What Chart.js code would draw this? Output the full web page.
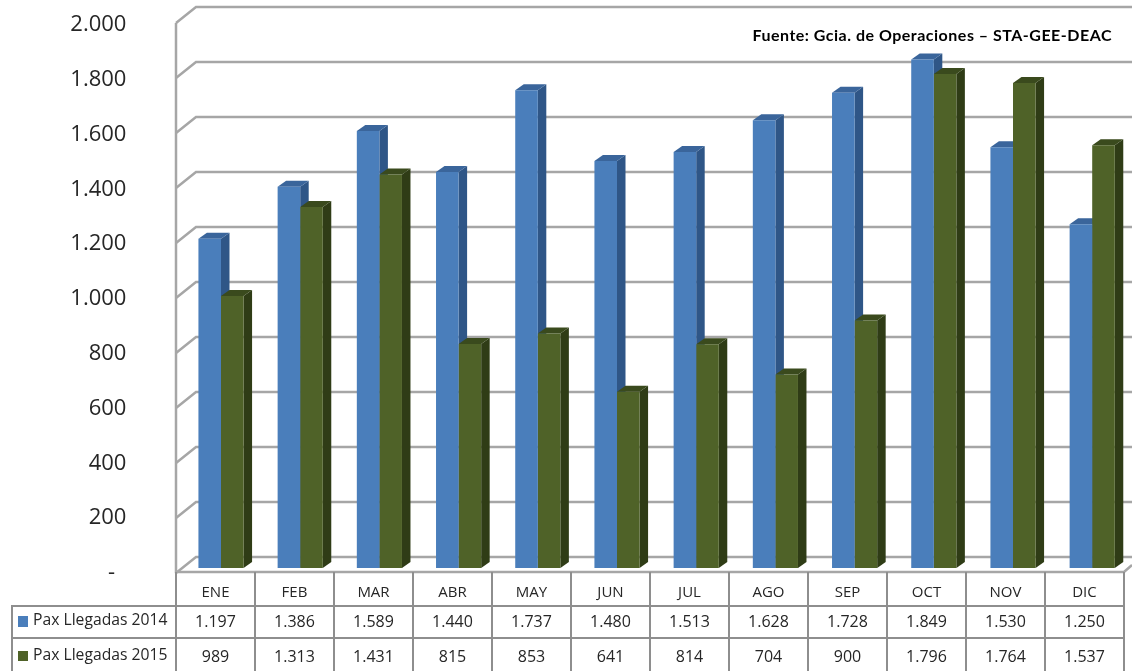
<!DOCTYPE html>
<html><head><meta charset="utf-8">
<style>html,body{margin:0;padding:0;background:#fff}canvas{display:block}</style>
<script src="https://cdn.jsdelivr.net/npm/chart.js@4"></script></head>
<body><canvas id="c" width="1132" height="671"></canvas>
<script>
const months = ["ENE","FEB","MAR","ABR","MAY","JUN","JUL","AGO","SEP","OCT","NOV","DIC"];
const serie2014 = [1197,1386,1589,1440,1737,1480,1513,1628,1728,1849,1530,1250];
const serie2015 = [989,1313,1431,815,853,641,814,704,900,1796,1764,1537];
const name2014 = "Pax Llegadas 2014";
const name2015 = "Pax Llegadas 2015";
const fuente = "Fuente: Gcia. de Operaciones – STA-GEE-DEAC";
const tickValues = [0,200,400,600,800,1000,1200,1400,1600,1800,2000];
const colors2014 = {front:"#4a7ebb",side:"#2f5687",cap:"#3a659b"};
const colors2015 = {front:"#4f6228",side:"#2f3c16",cap:"#3a4a1d"};
const fmt = v => v===0 ? "-" : (v>=1000 ? Math.floor(v/1000)+"."+String(v%1000).padStart(3,"0") : String(v));
const FONT = '"Open Sans"';
const GRID = "#a6a6a6", TABLE="#8e8e8e", TXT="#262626";
const depthX = 8.5, depthY = 6, tableLeft = 176, tableStep = 79;

const scene = {
  id:"scene",
  beforeDatasetsDraw(chart){
    const {ctx,scales:{y}} = chart;
    ctx.save();
    ctx.strokeStyle = GRID; ctx.lineWidth = 2.5;
    const left = tableLeft, backX = 196, right = 1132, frontRight = tableLeft+tableStep*12;
    tickValues.forEach(v=>{
      const p = y.getPixelForValue(v);
      ctx.beginPath();
      ctx.moveTo(left,p+5); ctx.lineTo(backX,p-11); ctx.lineTo(right,p-11);
      ctx.stroke();
    });
    const p0=y.getPixelForValue(0)+4;
    ctx.beginPath();
    ctx.moveTo(left,y.getPixelForValue(2000)+5); ctx.lineTo(left,p0); ctx.lineTo(frontRight,p0); ctx.lineTo(right,p0-7);
    ctx.stroke();
    chart.data.datasets.forEach((ds,di)=>{
      const c = di===0?colors2014:colors2015;
      chart.getDatasetMeta(di).data.forEach(b=>{
        const l=b.x-b.width/2, r=b.x+b.width/2, t=b.y, bt=b.base;
        ctx.fillStyle=c.side;
        ctx.beginPath();ctx.moveTo(r,t);ctx.lineTo(r+depthX,t-depthY);ctx.lineTo(r+depthX,bt-depthY);ctx.lineTo(r,bt);ctx.closePath();ctx.fill();
        ctx.fillStyle=c.cap;
        ctx.beginPath();ctx.moveTo(l,t);ctx.lineTo(l+depthX,t-depthY);ctx.lineTo(r+depthX,t-depthY);ctx.lineTo(r,t);ctx.closePath();ctx.fill();
      });
    });
    ctx.restore();
  },
  afterDraw(chart){
    const {ctx} = chart;
    const colLeft = i => tableLeft+i*tableStep;
    const rows=[572,606,638,673];
    ctx.save();
    ctx.strokeStyle=TABLE; ctx.lineWidth=2;
    ctx.beginPath();
    for(let i=0;i<=months.length;i++){ctx.moveTo(colLeft(i),rows[0]);ctx.lineTo(colLeft(i),rows[3]);}
    ctx.moveTo(11,rows[1]);ctx.lineTo(colLeft(12),rows[1]);
    ctx.moveTo(11,rows[2]);ctx.lineTo(colLeft(12),rows[2]);
    ctx.moveTo(12,rows[1]);ctx.lineTo(12,rows[3]);
    ctx.stroke();
    ctx.fillStyle=TXT; ctx.textAlign="center"; ctx.textBaseline="middle";
    months.forEach((m,i)=>{
      const cx=colLeft(i)+tableStep/2;
      ctx.font=`15px ${FONT}`;
      ctx.fillText(m,cx,593);
      ctx.font=`16px ${FONT}`;
      ctx.fillText(fmt(serie2014[i]),cx,622);
      ctx.fillText(fmt(serie2015[i]),cx,657);
    });
    ctx.textAlign="left";
    ctx.font=`15.7px ${FONT}`;
    ctx.fillStyle=colors2014.front; ctx.fillRect(18,616,10,11);
    ctx.fillStyle=colors2015.front; ctx.fillRect(18,651,10,10);
    ctx.fillStyle=TXT;
    ctx.fillText(name2014,33,621);
    ctx.fillText(name2015,33,656);
    ctx.fillStyle="#000"; ctx.textAlign="right";
    ctx.font='bold 16px Lato';
    ctx.letterSpacing="0.5px";
    ctx.fillText(fuente,1112,36);
    ctx.restore();
  }
};

new Chart(document.getElementById("c"),{
  type:"bar",
  data:{labels:months,datasets:[
    {label:name2014,data:serie2014,backgroundColor:colors2014.front,borderWidth:0,categoryPercentage:0.57,barPercentage:1},
    {label:name2015,data:serie2015,backgroundColor:colors2015.front,borderWidth:0,categoryPercentage:0.57,barPercentage:1}
  ]},
  plugins:[scene],
  options:{
    responsive:false,animation:false,
    layout:{padding:{top:18,bottom:103,right:0.2,left:0}},
    plugins:{legend:{display:false},tooltip:{enabled:false},title:{display:false}},
    scales:{
      x:{display:false,grid:{display:false}},
      y:{display:false,min:0,max:2000},
      labelAxis:{
        position:"left",min:18,max:2025.5,
        grid:{display:false},border:{display:false},
        afterBuildTicks(a){a.ticks=tickValues.map(v=>({value:v}));},
        afterFit(a){a.width=181.4;a.paddingTop=0;a.paddingBottom=0;},
        ticks:{callback:v=>v===0?fmt(v)+"\u00a0\u00a0":fmt(v),autoSkip:false,padding:47,font:{family:"Open Sans",size:22},color:TXT}
      }
    }
  }
});
</script></body></html>
